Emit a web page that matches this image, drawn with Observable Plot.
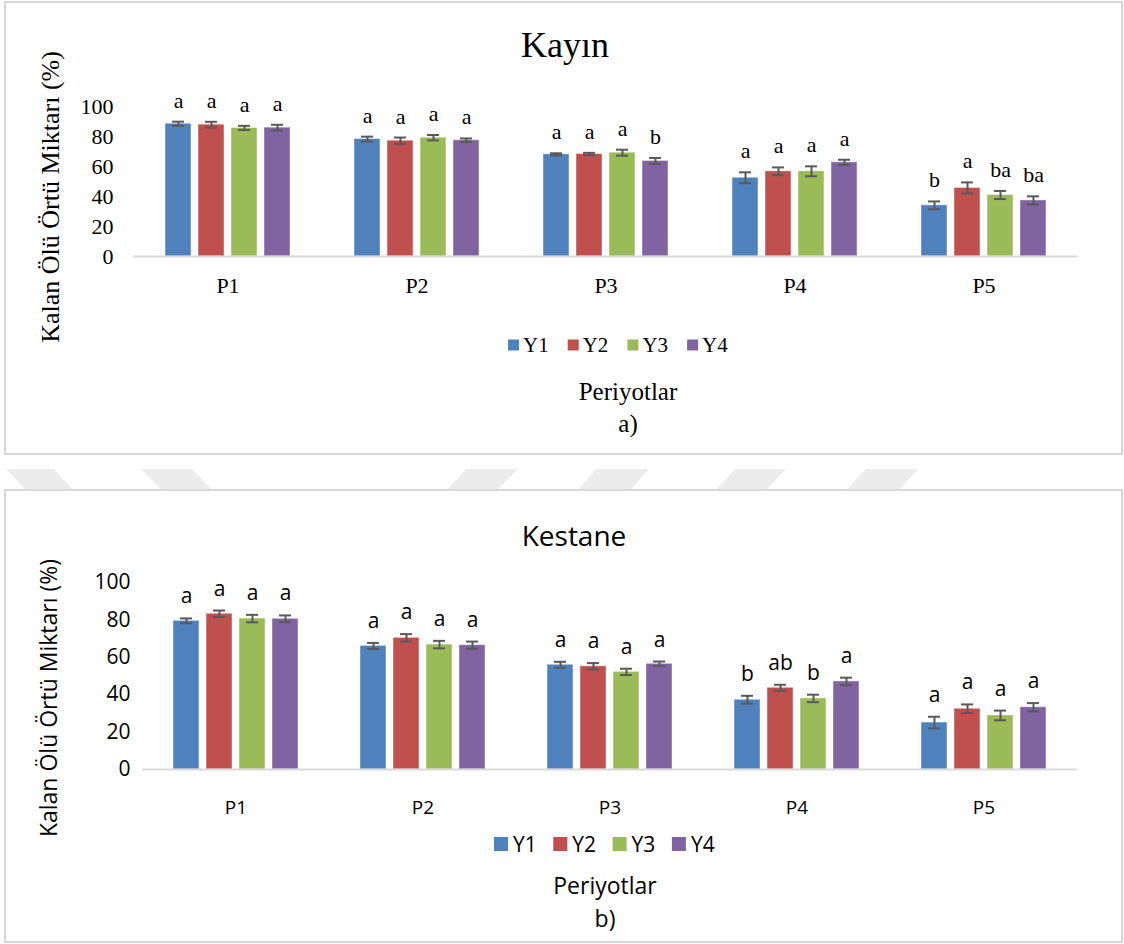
<!DOCTYPE html>
<html>
<head>
<meta charset="utf-8">
<script src="https://cdn.jsdelivr.net/npm/d3@7"></script>
<script src="https://cdn.jsdelivr.net/npm/@observablehq/plot@0.6"></script>
<style>
  html, body { margin: 0; padding: 0; background: #fff; }
  body { width: 1124px; height: 944px; position: relative; overflow: hidden; }
  #page { position: absolute; left: 0; top: 0; }
  .chart { position: absolute; left: 0; }
  .serif, .serif text { font-family: "Liberation Serif", "Times New Roman", serif !important; }
  .sans, .sans text { font-family: "Open Sans", "Lato", sans-serif !important; }
</style>
</head>
<body>
<svg id="page" width="1124" height="944"></svg>
<div id="kayin" class="chart serif" style="top:60px"></div>
<div id="kestane" class="chart sans" style="top:540px"></div>
<script>
// Periods on the x axis, series (years) within each period
const periods = ["P1", "P2", "P3", "P4", "P5"];
const series = ["Y1", "Y2", "Y3", "Y4"];
const colors = ["#4F81BD", "#C0504D", "#9BBB59", "#8064A2"];
const yTicks = [0, 20, 40, 60, 80, 100];

// Kayın (beech): remaining litter, %; one row per series, one value per period
const kayinMean = [
  [88.5, 78.3, 68.1, 52.5, 34.1],
  [87.9, 77.2, 68.3, 56.8, 45.7],
  [85.7, 79.2, 69.2, 56.8, 41.0],
  [85.9, 77.5, 63.7, 62.8, 37.4]
];
const kayinErr = [
  [1.4, 1.6, 0.7, 3.6, 2.6],
  [1.9, 2.1, 0.8, 2.6, 3.7],
  [1.4, 1.8, 2.0, 3.3, 2.7],
  [1.9, 1.2, 2.0, 1.7, 2.7]
];
const kayinLetters = [
  ["a", "a", "a", "a", "b"],
  ["a", "a", "a", "a", "a"],
  ["a", "a", "a", "a", "ba"],
  ["a", "a", "b", "a", "ba"]
];

// Kestane (chestnut)
const kestaneMean = [
  [79.5, 66.1, 56.0, 37.3, 25.1],
  [83.3, 70.4, 55.2, 43.7, 32.5],
  [80.7, 66.8, 52.2, 38.0, 28.9],
  [80.6, 66.5, 56.5, 47.1, 33.3]
];
const kestaneErr = [
  [1.3, 1.6, 1.6, 2.1, 3.1],
  [1.7, 2.0, 1.7, 1.6, 2.3],
  [2.0, 2.0, 1.7, 2.0, 2.6],
  [1.8, 1.9, 1.25, 2.0, 2.2]
];
const kestaneLetters = [
  ["a", "a", "a", "b", "a"],
  ["a", "a", "a", "ab", "a"],
  ["a", "a", "a", "b", "a"],
  ["a", "a", "a", "a", "a"]
];

const yLabel = "Kalan Ölü Örtü Miktarı (%)";
const xLabel = "Periyotlar";

function rowsOf(mean, err, letters) {
  const rows = [];
  series.forEach((s, i) => periods.forEach((p, j) => rows.push({
    period: p, series: s, value: mean[i][j], err: err[i][j], letter: letters[i][j]
  })));
  return rows;
}

function barChart(rows, o) {
  const lo = d => d.value - d.err;
  const hi = d => d.value + d.err;
  return Plot.plot({
    width: 1124,
    height: o.height,
    marginLeft: o.marginLeft,
    marginRight: 46,
    marginTop: o.marginTop,
    marginBottom: o.height - o.baseline,
    style: {fontSize: o.tickSize + "px", color: "#000", background: "transparent", overflow: "visible"},
    fx: {domain: periods, padding: 0, label: null},
    x: {domain: series, paddingInner: 0.21, paddingOuter: 0.92, axis: null},
    y: {domain: [0, 100]},
    color: {domain: series, range: colors},
    marks: [
      Plot.axisY({ticks: yTicks, tickSize: 0, tickPadding: o.yPad, label: null}),
      Plot.axisFx({anchor: "bottom", tickSize: 0, tickPadding: o.fxPad, label: null, fontSize: o.fxSize}),
      Plot.barY(rows, {fx: "period", x: "series", y: "value", fill: "series",
        stroke: "#fff", strokeOpacity: 0.45, strokeWidth: 1}),
      Plot.ruleY([0], {stroke: "#d9d9d9", strokeWidth: 2}),
      Plot.ruleX(rows, {fx: "period", x: "series", y1: lo, y2: hi, stroke: "#595959", strokeWidth: 2}),
      Plot.tickY(rows, {fx: "period", x: "series", y: lo, inset: 7, stroke: "#595959", strokeWidth: 2}),
      Plot.tickY(rows, {fx: "period", x: "series", y: hi, inset: 7, stroke: "#595959", strokeWidth: 2}),
      Plot.text(rows, {fx: "period", x: "series", y: hi, text: "letter", lineAnchor: "bottom",
        dy: o.letterDy, fontSize: o.letterSize, fill: "#000"})
    ]
  });
}

document.getElementById("kayin").append(barChart(
  rowsOf(kayinMean, kayinErr, kayinLetters),
  {tickSize: 22, fxSize: 22, letterSize: 22,
   height: 246, marginTop: 46, baseline: 196, marginLeft: 133, yPad: 20, fxPad: 21, letterDy: -14}
));
document.getElementById("kestane").append(barChart(
  rowsOf(kestaneMean, kestaneErr, kestaneLetters),
  {tickSize: 21, fxSize: 19, letterSize: 21,
   height: 279, marginTop: 42, baseline: 229, marginLeft: 140, yPad: 12, fxPad: 31, letterDy: -15}
));

// Page frame: panel borders, faint background emblem, titles, legends and captions
const page = d3.select("#page");

const emblem = [
  [[6, 469], [54, 469], [72, 489], [25, 489]],
  [[141, 469], [192, 469], [211, 489], [161, 489]],
  [[466, 469], [518, 469], [498, 489], [448, 489]],
  [[596, 469], [649, 469], [631, 489], [579, 489]],
  [[735, 469], [786, 469], [767, 489], [717, 489]],
  [[866, 469], [918, 469], [900, 489], [847, 489]]
];
page.selectAll("polygon.emblem").data(emblem).join("polygon")
  .attr("class", "emblem")
  .attr("points", d => d.map(p => p.join(",")).join(" "))
  .attr("fill", "#ececec");

const panels = [
  {x: 5, y: 2, w: 1117, h: 452},
  {x: 5, y: 490, w: 1117, h: 452}
];
page.selectAll("rect.panel").data(panels).join("rect")
  .attr("class", "panel")
  .attr("x", d => d.x).attr("y", d => d.y).attr("width", d => d.w).attr("height", d => d.h)
  .attr("fill", "none").attr("stroke", "#d9d9d9").attr("stroke-width", 2);

function frameText(cfg) {
  const g0 = page.append("g").attr("class", cfg.serif ? "serif" : "sans");
  // title
  g0.append("text").attr("x", cfg.titleX).attr("y", cfg.titleY)
    .attr("text-anchor", "middle").attr("font-size", cfg.titleSize)
    .text(cfg.title);
  // y-axis label
  g0.append("text")
    .attr("transform", `translate(${cfg.yLabX},${cfg.yLabY}) rotate(-90)`)
    .attr("text-anchor", "middle").attr("dominant-baseline", "central")
    .attr("font-size", cfg.yLabSize)
    .text(yLabel);
  // legend
  series.forEach((s, i) => {
    const x = cfg.legX + i * cfg.legStep;
    g0.append("rect").attr("x", x).attr("y", cfg.legY - cfg.sw / 2)
      .attr("width", cfg.sw).attr("height", cfg.sw).attr("fill", colors[i]);
    g0.append("text").attr("x", x + cfg.sw + cfg.legGap).attr("y", cfg.legY)
      .attr("dominant-baseline", "central").attr("font-size", cfg.legSize)
      .text(s);
  });
  // x caption and panel tag
  g0.append("text").attr("x", cfg.capX).attr("y", cfg.capY)
    .attr("text-anchor", "middle").attr("font-size", cfg.capSize)
    .text(xLabel);
  g0.append("text").attr("x", cfg.capX).attr("y", cfg.tagY)
    .attr("text-anchor", "middle").attr("font-size", cfg.capSize)
    .text(cfg.tag);
}

frameText({serif: true, title: "Kayın", titleX: 565, titleY: 57, titleSize: 36,
  yLabX: 50, yLabY: 197, yLabSize: 26,
  legX: 508, legY: 345, legStep: 59.7, sw: 11, legGap: 4, legSize: 21,
  capX: 628, capY: 400, tagY: 432, capSize: 25, tag: "a)"});
frameText({serif: false, title: "Kestane", titleX: 574, titleY: 546, titleSize: 28,
  yLabX: 48, yLabY: 698, yLabSize: 23,
  legX: 494, legY: 844, legStep: 59.3, sw: 14, legGap: 5, legSize: 21,
  capX: 605, capY: 894, tagY: 927, capSize: 23, tag: "b)"});
</script>
</body>
</html>
